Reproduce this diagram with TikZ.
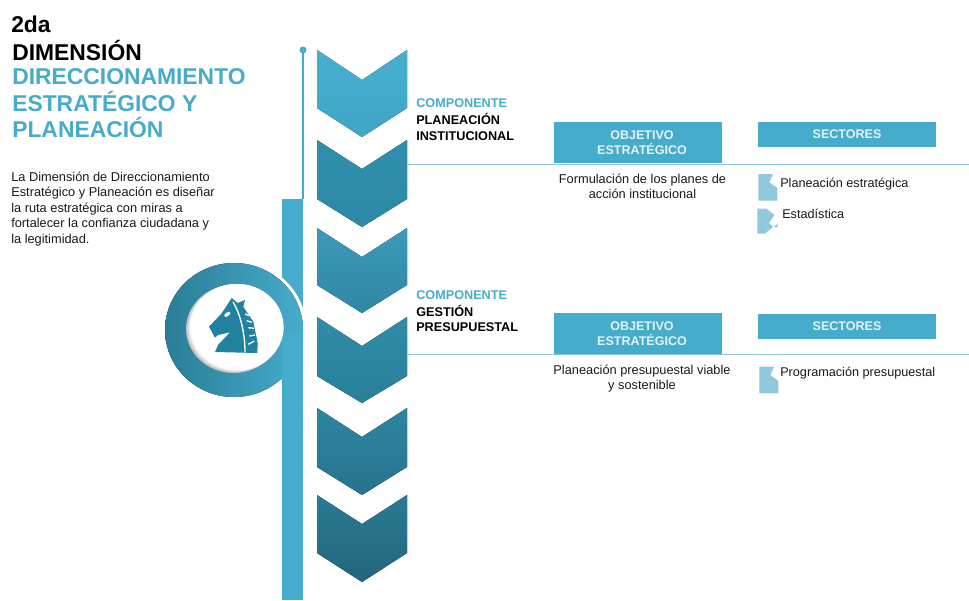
\documentclass[tikz,border=0pt]{standalone}
\usepackage{fontspec}
\setmainfont{Liberation Sans}
\definecolor{teal1}{HTML}{46ACCB}
\definecolor{ringd}{HTML}{2A7D96}
\definecolor{horse}{HTML}{20829F}
\definecolor{linec}{HTML}{8CC6D8}
\definecolor{iconc}{HTML}{90C8DC}
\definecolor{txt}{HTML}{1A1A1A}
\definecolor{hdrt}{HTML}{E4F3F8}
\definecolor{ca}{HTML}{46AFD0}\definecolor{cb}{HTML}{3FA6C5}
\definecolor{cc}{HTML}{2E8FAC}\definecolor{cd}{HTML}{2E8AA6}
\definecolor{ce}{HTML}{3C9AB8}\definecolor{cf}{HTML}{2F87A4}
\definecolor{cg}{HTML}{2F8CA8}\definecolor{ch}{HTML}{2A7F9A}
\definecolor{ci}{HTML}{2D85A1}\definecolor{cj}{HTML}{28738E}
\definecolor{ck}{HTML}{2A7A94}\definecolor{cl}{HTML}{24667D}
\tikzset{
 x=0.75pt,y=-0.75pt,
 hdrbox/.style={fill=teal1,draw=none,inner sep=0pt,anchor=center},
 hdrtxt/.style={text=hdrt,font=\fontsize{9.4}{11.3}\selectfont\bfseries,align=center,inner sep=0pt,anchor=center},
 bodytxt/.style={font=\fontsize{9.6}{11.6}\selectfont,text=txt,inner sep=0pt,anchor=north west,align=left},
 itemtxt/.style={font=\fontsize{9.5}{11.6}\selectfont,text=txt,inner sep=0pt,anchor=north west,align=left},
 centtxt/.style={font=\fontsize{9.6}{11.6}\selectfont,text=txt,inner sep=0pt,anchor=north,align=center},
 comptxt/.style={font=\fontsize{9.5}{11.8}\selectfont\bfseries,inner sep=0pt,anchor=north west,align=left},
 titletxt/.style={font=\fontsize{17.15}{19.7}\selectfont\bfseries,inner sep=0pt,anchor=north west,align=left},
 rulec/.style={draw=linec,line width=1.1pt},
 iconf/.style={fill=iconc,draw=none},
}
\newcommand{\chevshape}[6]{%
 \fill[top color=#5,bottom color=#6] (317,#1)--(362,#2)--(407,#1)--(407,#3)--(362,#4)--(317,#3)--cycle;}
\begin{document}
\begin{tikzpicture}
\useasboundingbox (0,0) rectangle (969,600);
\fill[white] (0,0) rectangle (969,600);
% thin line with dot
\coordinate (dotc) at (303,50);
\coordinate (barTop) at (303,199);
\draw[teal1,line width=1pt] (dotc)--(barTop);
\fill[teal1] (dotc) circle (3.5);
% bar upper
\fill[teal1] (282,199) rectangle (303,340);
% white halo and ring
\fill[white] (234,330) ellipse (72.5 and 70);
\fill[left color=ringd,right color=teal1] (234,330) ellipse (69 and 67);
% bar lower
\fill[teal1] (282,332) rectangle (303,600);
% inner disc with soft shadow
\foreach \i in {0,...,8}{
  \pgfmathsetmacro{\shade}{int(55-\i*6.8)}
  \fill[gray!\shade] ({233.5+\i*0.45},{329-\i*0.25}) ellipse ({47.5-\i*0.12} and {44-\i*0.12});
}
\fill[white] (237.2,327) ellipse (45.8 and 42.9);
% horse
\fill[horse] (231.7,298)--(237.7,303)--(245,300)--(243.3,306.7)--(253.3,321.7)--(257.7,343)--(257.3,353)--(215,352)--(218,345)--(230,332.3)--(218,335)--(215,337.7)--(209,326.7)--(221.7,313.3)--cycle;
\fill[white,rotate around={35:(227.3,314.3)}] (227.3,314.3) ellipse (3.6 and 1.8);
\draw[white,line width=1pt] (233,302) .. controls (241,315) and (245,335) .. (245,352);
\foreach \a/\b/\c/\d in {245/314/249.3/315.7,246.7/320.7/251.7/322.3,248.3/327.7/254/328.3,249.3/336/255/335,248.3/344.3/254.3/341}{
  \draw[white,line width=1pt] (\a,\b)--(\c,\d);
}
% chevrons
\chevshape{50}{80}{108}{137}{ca}{cb}
\chevshape{140}{169}{199}{227}{cc}{cd}
\chevshape{228}{257}{285}{313}{ce}{cf}
\chevshape{317}{346}{376}{403}{cg}{ch}
\chevshape{408}{437}{467}{495}{ci}{cj}
\chevshape{495}{524}{553}{582}{ck}{cl}
% titles
\node[titletxt,text=black] (t2da) at (11,15.5) {2da};
\node[titletxt,text=black] (tdim) at (12,39.5) {DIMENSIÓN};
\node[titletxt,text=teal1] (tdir) at (12,68.5) {DIRECCIONAMIENTO\\ESTRATÉGICO Y\\PLANEACIÓN};
\node[bodytxt] (desc) at (11,171.5) {La Dimensión de Direccionamiento\\Estratégico y Planeación es diseñar\\la ruta estratégica con miras a\\fortalecer la confianza ciudadana y\\la legitimidad.};
% component labels
\node[comptxt,text=teal1] (c1) at (416,98) {COMPONENTE};
\node[comptxt,text=black] (c1b) at (416,113) {PLANEACIÓN\\INSTITUCIONAL};
\node[comptxt,text=teal1] (c2) at (416,290) {COMPONENTE};
\node[comptxt,text=black] (c2b) at (416,304.5) {GESTIÓN\\PRESUPUESTAL};
% rules
\coordinate (r1a) at (407,164.5); \coordinate (r1b) at (969,164.5);
\coordinate (r2a) at (407,354.5); \coordinate (r2b) at (969,354.5);
\draw[rulec] (r1a)--(r1b);
\draw[rulec] (r2a)--(r2b);
% header boxes
\node[hdrbox,minimum width=168*0.75pt,minimum height=41*0.75pt] (o1) at (638,142.5) {};
\node[hdrtxt] (o1t) at (642,142.5) {OBJETIVO\\ESTRATÉGICO};
\node[hdrbox,minimum width=178*0.75pt,minimum height=25*0.75pt] (s1) at (847,134.5) {};
\node[hdrtxt] (s1t) at (847,134.5) {SECTORES};
\node[hdrbox,minimum width=168*0.75pt,minimum height=41*0.75pt] (o2) at (638,333.5) {};
\node[hdrtxt] (o2t) at (642,333.5) {OBJETIVO\\ESTRATÉGICO};
\node[hdrbox,minimum width=178*0.75pt,minimum height=25*0.75pt] (s2) at (847,326) {};
\node[hdrtxt] (s2t) at (847,326) {SECTORES};
% descriptions
\node[centtxt] (d1) at (642.5,173.5) {Formulación de los planes de\\acción institucional};
\node[centtxt] (d2) at (642,364.5) {Planeación presupuestal viable\\y sostenible};
% sector items
\fill[iconf] (758.3,174)--(773,174)--(769.3,182.3)--(777.3,188)--(777.3,200.7)--(758.3,200.7)--cycle;
\fill[iconf] (757.3,208.5)--(766,208.5)--(774.5,215)--(769,223)--(773,227)--(765,233.5)--(757.3,233.5)--cycle;
\fill[iconf] (773.5,227)--(777.5,224)--(777.5,227)--cycle;
\fill[iconf] (759.3,366.7)--(774,366.7)--(770.3,375)--(778.3,381)--(778.3,393.3)--(759.3,393.3)--cycle;
\node[itemtxt] (i1) at (780,177.5) {Planeación estratégica};
\node[itemtxt] (i2) at (782,208.5) {Estadística};
\node[itemtxt] (i3) at (780,366.5) {Programación presupuestal};
\end{tikzpicture}
\end{document}
